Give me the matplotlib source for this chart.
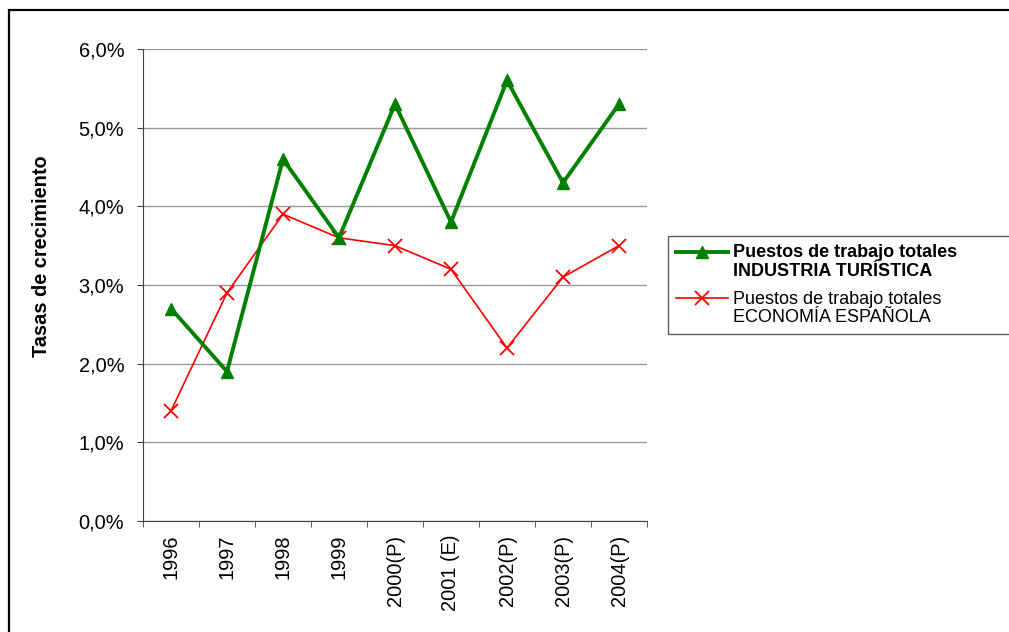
import matplotlib.pyplot as plt
from matplotlib.patches import Rectangle
from matplotlib.ticker import FuncFormatter, FixedLocator
from matplotlib.legend_handler import HandlerLine2D

plt.rcParams['font.family'] = ['Liberation Sans', 'DejaVu Sans']

# ── datos ─────────────────────────────────────
anios = ["1996", "1997", "1998", "1999", "2000(P)", "2001 (E)",
         "2002(P)", "2003(P)", "2004(P)"]
turismo = [2.7, 1.9, 4.6, 3.6, 5.3, 3.8, 5.6, 4.3, 5.3]
economia = [1.4, 2.9, 3.9, 3.6, 3.5, 3.2, 2.2, 3.1, 3.5]

lbl_turismo = "Puestos de trabajo totales\nINDUSTRIA TURÍSTICA"
lbl_economia = "Puestos de trabajo totales\nECONOMÍA ESPAÑOLA"

FS = 14.4

W, H = 1009, 632
fig = plt.figure(figsize=(W / 100, H / 100), dpi=100)
ax = fig.add_axes([143 / W, 1 - 521 / H, 504 / W, 472 / H])

x = list(range(len(anios)))
ax.plot(x, economia, color="#ff0000", lw=1.2, marker="x", ms=10, mew=1.3,
        label=lbl_economia, zorder=3)
ax.plot(x, turismo, color="#008000", lw=2.8, marker="^", ms=9,
        label=lbl_turismo, zorder=4)

ax.set_xlim(-0.5, len(anios) - 0.5)
ax.set_ylim(0, 6)
ax.set_yticks([0, 1, 2, 3, 4, 5, 6])
ax.yaxis.set_major_formatter(FuncFormatter(lambda v, p: f"{v:.1f}%".replace(".", ",")))
ax.grid(axis="y", color="#999999", lw=1)
ax.set_axisbelow(True)

ax.set_xticks(x)
ax.set_xticklabels(anios, rotation=90, fontsize=FS)
ax.xaxis.set_minor_locator(FixedLocator([i - 0.5 for i in range(len(anios) + 1)]))
ax.tick_params(axis="x", which="major", length=0, pad=10)
ax.tick_params(axis="x", which="minor", length=4, direction="out", color="#404040")
ax.tick_params(axis="y", length=4.5, pad=9, labelsize=FS, color="#404040")

for s in ["top", "right"]:
    ax.spines[s].set_visible(False)
for s in ["left", "bottom"]:
    ax.spines[s].set_color("#404040")

ax.set_ylabel("Tasas de crecimiento", fontsize=FS, fontweight="bold")
ax.yaxis.set_label_coords(-0.1835, 0.56)


# el símbolo de la leyenda va a la altura de la primera línea del texto
class HandlerPrimeraLinea(HandlerLine2D):
    def create_artists(self, legend, orig_handle, xdescent, ydescent,
                       width, height, fontsize, trans):
        return super().create_artists(legend, orig_handle, xdescent,
                                      ydescent - 1.12 * fontsize, width,
                                      height, fontsize, trans)


handles, labels = ax.get_legend_handles_labels()
handles, labels = handles[::-1], labels[::-1]
leg = fig.legend(handles, labels, loc="upper left",
                 bbox_to_anchor=(668 / W, 0.5, 345 / W, 1 - 236 / H - 0.5),
                 mode="expand", borderaxespad=0, fontsize=13,
                 frameon=True, fancybox=False, handlelength=2.9,
                 handletextpad=0.25, borderpad=0.45, labelspacing=0.6,
                 handler_map={h: HandlerPrimeraLinea() for h in handles})
leg.get_frame().set_edgecolor("#333333")
leg.get_frame().set_linewidth(1)
for t in leg.get_texts():
    t.set_linespacing(1.12)
leg.get_texts()[0].set_fontweight("bold")

# marco exterior
fig.patches.append(Rectangle((9 / W, -0.1), 1.2, 1 - 10 / H + 0.1,
                             transform=fig.transFigure, fill=False,
                             edgecolor="black", lw=1.6))

fig.savefig("out.png", dpi=100)
